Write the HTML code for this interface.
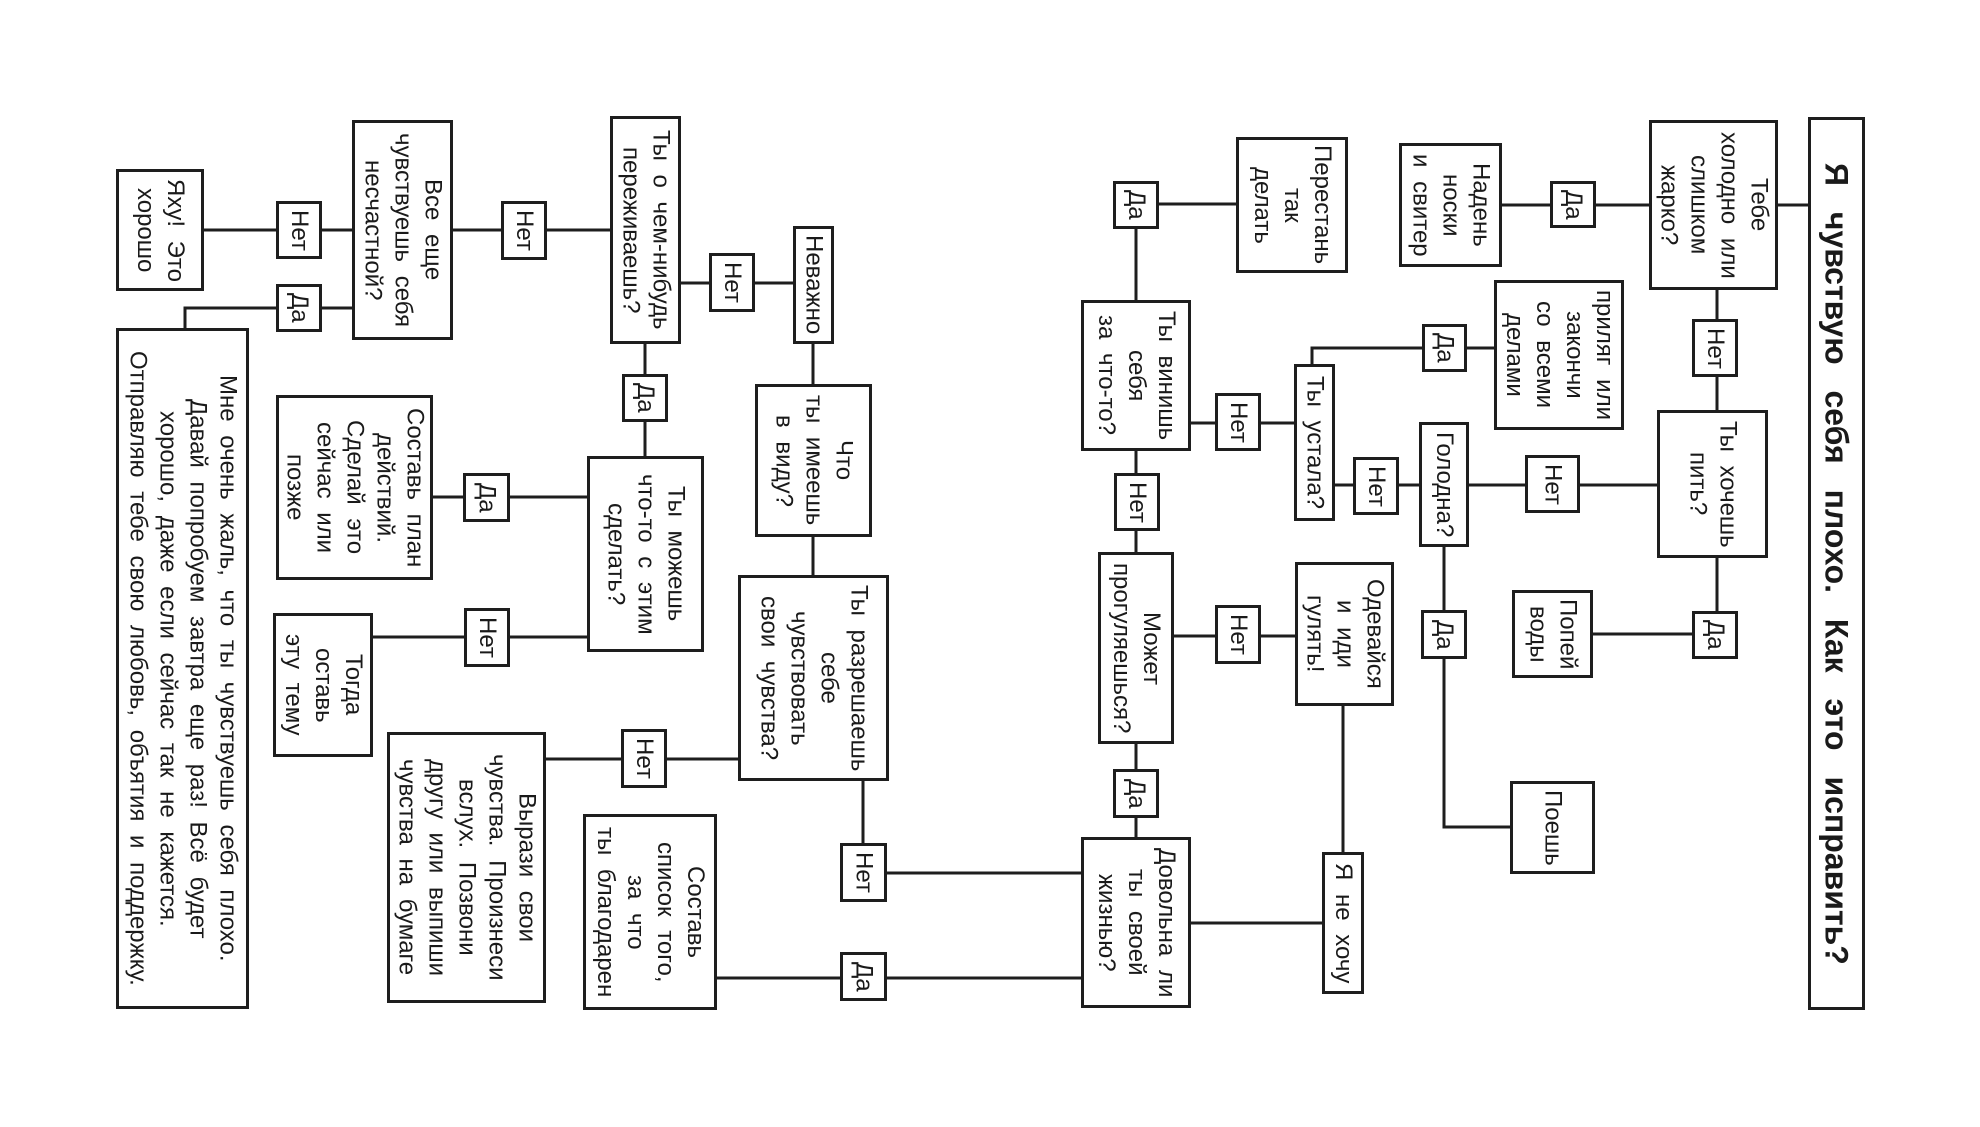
<!DOCTYPE html>
<html><head><meta charset="utf-8">
<style>
html,body{margin:0;padding:0;background:#fff;}
body{width:1980px;height:1127px;position:relative;overflow:hidden;font-family:"Liberation Sans","DejaVu Sans",sans-serif;color:#1a1a1a;}
.b{position:absolute;box-sizing:border-box;border:3px solid #1e1e1e;background:#fff;display:flex;align-items:center;justify-content:center;writing-mode:vertical-rl;text-align:center;font-size:24px;line-height:30px;word-spacing:7px;white-space:nowrap;}
.t{font-weight:bold;font-size:32px;word-spacing:17px;}
svg{position:absolute;left:0;top:0;}
</style></head><body>
<svg width="1980" height="1127">
<g stroke="#1e1e1e" stroke-width="3" fill="none">
<path d="M1778 205 H1810"/>
<path d="M1502 205 H1649"/>
<path d="M1717 290 V410"/>
<path d="M1717 558 V611"/>
<path d="M1593 634 H1692"/>
<path d="M1335 485 H1657"/>
<path d="M1444 547 V827 H1510"/>
<path d="M1312 364 V348 H1494"/>
<path d="M1191 423 H1294"/>
<path d="M1159 204 H1236"/>
<path d="M1136 229 V300"/>
<path d="M1136 451 V552"/>
<path d="M1174 636 H1295"/>
<path d="M1343 706 V852"/>
<path d="M1191 923 H1322"/>
<path d="M1136 744 V837"/>
<path d="M863 781 V873 H1081"/>
<path d="M717 978 H1081"/>
<path d="M813 344 V575"/>
<path d="M681 283 H793"/>
<path d="M546 759 H738"/>
<path d="M453 230 H610"/>
<path d="M645 344 V456"/>
<path d="M433 497 H587"/>
<path d="M373 637 H587"/>
<path d="M204 230 H352"/>
<path d="M352 308 H185 V328"/>
</g>
</svg>

<div class="b t" style="left:1808px;top:117px;width:57px;height:893px">Я чувствую себя плохо. Как это исправить?</div>
<div class="b" style="left:1649px;top:120px;width:129px;height:170px">Тебе<br>холодно или<br>слишком<br>жарко?</div>
<div class="b" style="left:1550px;top:181px;width:46px;height:47px">Да</div>
<div class="b" style="left:1399px;top:143px;width:103px;height:124px">Надень<br>носки<br>и свитер</div>
<div class="b" style="left:1692px;top:319px;width:46px;height:58px">Нет</div>
<div class="b" style="left:1657px;top:410px;width:111px;height:148px">Ты хочешь<br>пить?</div>
<div class="b" style="left:1692px;top:611px;width:46px;height:48px">Да</div>
<div class="b" style="left:1512px;top:590px;width:81px;height:88px">Попей<br>воды</div>
<div class="b" style="left:1525px;top:455px;width:55px;height:58px">Нет</div>
<div class="b" style="left:1419px;top:422px;width:50px;height:125px">Голодна?</div>
<div class="b" style="left:1353px;top:457px;width:46px;height:58px">Нет</div>
<div class="b" style="left:1294px;top:364px;width:41px;height:157px">Ты устала?</div>
<div class="b" style="left:1422px;top:324px;width:45px;height:48px">Да</div>
<div class="b" style="left:1494px;top:280px;width:130px;height:150px">приляг или<br>закончи<br>со всеми<br>делами</div>
<div class="b" style="left:1236px;top:137px;width:112px;height:136px">Перестань<br>так<br>делать</div>
<div class="b" style="left:1113px;top:181px;width:46px;height:48px">Да</div>
<div class="b" style="left:1081px;top:300px;width:110px;height:151px">Ты винишь<br>себя<br>за что-то?</div>
<div class="b" style="left:1215px;top:393px;width:46px;height:58px">Нет</div>
<div class="b" style="left:1114px;top:473px;width:46px;height:58px">Нет</div>
<div class="b" style="left:1098px;top:552px;width:76px;height:192px">Может<br>прогуляешься?</div>
<div class="b" style="left:1215px;top:605px;width:46px;height:59px">Нет</div>
<div class="b" style="left:1295px;top:562px;width:99px;height:144px">Одевайся<br>и иди<br>гулять!</div>
<div class="b" style="left:1322px;top:852px;width:42px;height:142px">Я не хочу</div>
<div class="b" style="left:1113px;top:769px;width:46px;height:49px">Да</div>
<div class="b" style="left:1081px;top:837px;width:110px;height:171px">Довольна ли<br>ты своей<br>жизнью?</div>
<div class="b" style="left:1421px;top:610px;width:46px;height:49px">Да</div>
<div class="b" style="left:1510px;top:781px;width:85px;height:93px">Поешь</div>

<div class="b" style="left:610px;top:116px;width:71px;height:228px">Ты о чем-нибудь<br>переживаешь?</div>
<div class="b" style="left:501px;top:201px;width:46px;height:59px">Нет</div>
<div class="b" style="left:709px;top:253px;width:46px;height:59px">Нет</div>
<div class="b" style="left:793px;top:226px;width:41px;height:118px">Неважно</div>
<div class="b" style="left:755px;top:384px;width:117px;height:153px">Что<br>ты имеешь<br>в виду?</div>
<div class="b" style="left:622px;top:374px;width:46px;height:48px">Да</div>
<div class="b" style="left:587px;top:456px;width:117px;height:196px">Ты можешь<br>что-то с этим<br>сделать?</div>
<div class="b" style="left:463px;top:473px;width:47px;height:49px">Да</div>
<div class="b" style="left:464px;top:608px;width:46px;height:59px">Нет</div>
<div class="b" style="left:738px;top:575px;width:151px;height:206px">Ты разрешаешь<br>себе<br>чувствовать<br>свои чувства?</div>
<div class="b" style="left:621px;top:729px;width:46px;height:59px">Нет</div>
<div class="b" style="left:387px;top:732px;width:159px;height:271px">Вырази свои<br>чувства. Произнеси<br>вслух. Позвони<br>другу или выпиши<br>чувства на бумаге</div>
<div class="b" style="left:583px;top:814px;width:134px;height:196px">Составь<br>список того,<br>за что<br>ты благодарен</div>
<div class="b" style="left:840px;top:843px;width:47px;height:59px">Нет</div>
<div class="b" style="left:840px;top:952px;width:47px;height:49px">Да</div>

<div class="b" style="left:352px;top:120px;width:101px;height:220px">Все еще<br>чувствуешь себя<br>несчастной?</div>
<div class="b" style="left:276px;top:201px;width:46px;height:58px">Нет</div>
<div class="b" style="left:276px;top:284px;width:46px;height:48px">Да</div>
<div class="b" style="left:116px;top:169px;width:88px;height:122px">Яху! Это<br>хорошо</div>
<div class="b" style="left:116px;top:328px;width:133px;height:681px">Мне очень жаль, что ты чувствуешь себя плохо.<br>Давай попробуем завтра еще раз! Всё будет<br>хорошо, даже если сейчас так не кажется.<br>Отправляю тебе свою любовь, объятия и поддержку.</div>
<div class="b" style="left:276px;top:395px;width:157px;height:185px">Составь план<br>действий.<br>Сделай это<br>сейчас или<br>позже</div>
<div class="b" style="left:273px;top:613px;width:100px;height:144px">Тогда<br>оставь<br>эту тему</div>
</body></html>
